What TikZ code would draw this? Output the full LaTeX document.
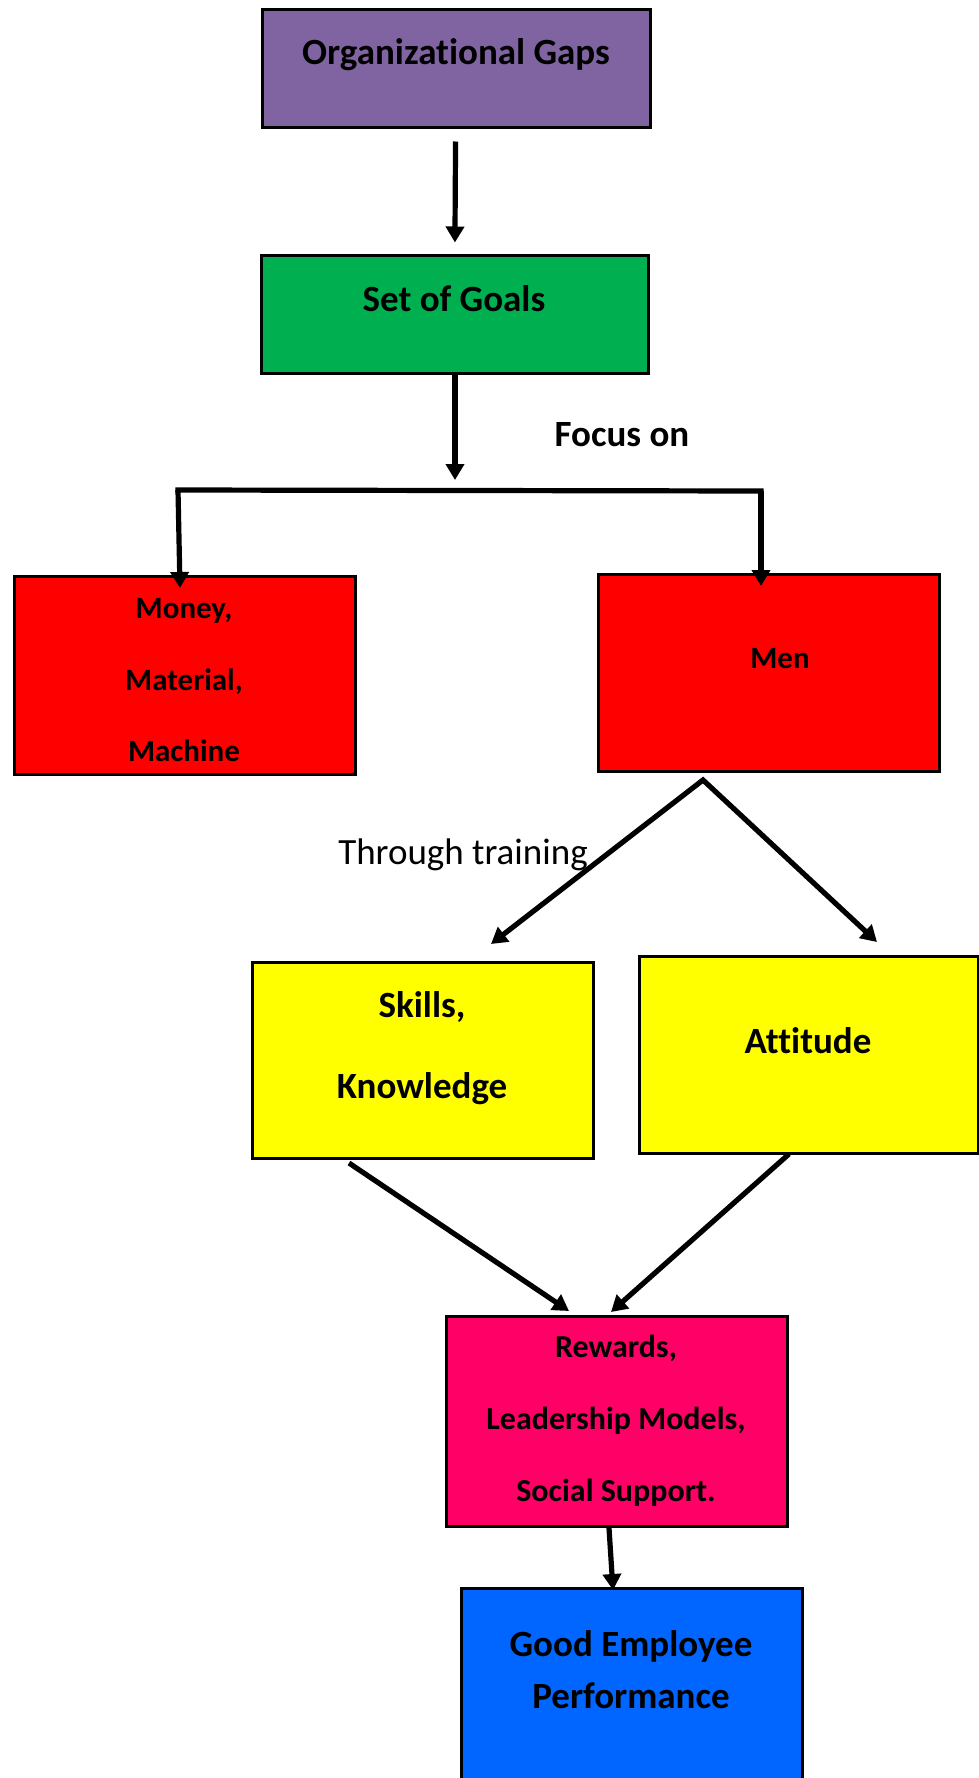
\documentclass[tikz,border=0pt]{standalone}
\usepackage{fontspec}
\setmainfont{Carlito}[Ligatures=NoCommon]
\usetikzlibrary{arrows.meta,fit}

\definecolor{gapviolet}{HTML}{8064A2}
\definecolor{goalgreen}{HTML}{00B050}
\definecolor{resred}{HTML}{FF0000}
\definecolor{trainyellow}{HTML}{FFFF00}
\definecolor{rewardpink}{HTML}{FF0066}
\definecolor{perfblue}{HTML}{0066FF}

\tikzset{
  box/.style={draw=black, line width=1.5pt, inner sep=0pt, rectangle},
  arr/.style={draw=black, line width=2.6pt, -{Triangle[length=8pt,width=9pt]}},
  bigtxt/.style={inner sep=0pt, anchor=base, font=\fontsize{18.5pt}{22pt}\selectfont\bfseries},
  midtxt/.style={inner sep=0pt, anchor=base, font=\fontsize{16pt}{19pt}\selectfont\bfseries},
  smalltxt/.style={inner sep=0pt, anchor=base, font=\fontsize{15.5pt}{18pt}\selectfont\bfseries},
  plaintxt/.style={inner sep=0pt, anchor=base, font=\fontsize{18.5pt}{22pt}\selectfont},
}

\begin{document}
\begin{tikzpicture}[x=0.5pt, y=-0.5pt]
\useasboundingbox (0,0) rectangle (979,1778);
\clip (0,0) rectangle (979,1778);

% boxes
\node[box, fill=gapviolet, fit={(262,9) (650,127)}] (gaps) {};
\node[box, fill=goalgreen, fit={(261,255) (648,373)}] (goals) {};
\node[box, fill=resred, fit={(14,576) (355,774)}] (mmm) {};
\node[box, fill=resred, fit={(598,574) (939,771)}] (men) {};
\node[box, fill=trainyellow, fit={(252,962) (593,1158)}] (skills) {};
\node[box, fill=trainyellow, fit={(639,956) (978,1153)}] (attitude) {};
\node[box, fill=rewardpink, fit={(446,1316) (787,1526)}] (rewards) {};
\node[box, fill=perfblue, fit={(461,1588) (802,1800)}] (perf) {};

% texts
\node[bigtxt] (tgaps) at (456,64) {Organizational Gaps};
\node[bigtxt] (tgoals) at (454,311) {Set of Goals};
\node[bigtxt] (tfocus) at (622,446) {Focus on};
\node[smalltxt] (tmoney) at (184,618) {Money,};
\node[smalltxt] (tmaterial) at (184,690) {Material,};
\node[smalltxt] (tmachine) at (184,761) {Machine};
\node[smalltxt] (tmen) at (780,668) {Men};
\node[plaintxt] (ttrain) at (463,864) {Through training};
\node[bigtxt] (tskills) at (422,1017) {Skills,};
\node[bigtxt] (tknow) at (422,1098) {Knowledge};
\node[bigtxt] (tatt) at (808,1053) {Attitude};
\node[midtxt] (trew) at (616,1357) {Rewards,};
\node[midtxt] (tlead) at (616,1429) {Leadership Models,};
\node[midtxt] (tsoc) at (616,1501) {Social Support.};
\node[bigtxt] (tgood) at (631,1656) {Good Employee};
\node[bigtxt] (tperf) at (631,1708) {Performance};

% connector points
\coordinate (fork) at (455,480);
\coordinate (bl) at (178,490);
\coordinate (br) at (761,491);
\coordinate (mtip) at (180,588);
\coordinate (ntip) at (761,586);
\coordinate (apex) at (703,780);
\coordinate (sktip) at (491,944);
\coordinate (attip) at (877,942);
\coordinate (skout) at (349,1163);
\coordinate (atout) at (789,1154);
\coordinate (rwl) at (569,1311);
\coordinate (rwr) at (611,1312);
\coordinate (rwout) at (609,1528);
\coordinate (pftip) at (613,1590);

% connectors
\draw[arr, shorten <=6.5pt, shorten >=5.5pt] (gaps) -- (goals);
\draw[arr] (goals.south -| fork) -- (fork);
\draw[line width=2.6pt, line cap=rect] (bl) -- (br);
\draw[arr] (bl) -- (mtip);
\draw[arr] (br) -- (ntip);
\draw[line width=2.6pt, line join=miter, {Triangle[length=8pt,width=9pt]}-{Triangle[length=8pt,width=9pt]}] (sktip) -- (apex) -- (attip);
\draw[arr] (skout) -- (rwl);
\draw[arr] (atout) -- (rwr);
\draw[arr] (rwout) -- (pftip);
\end{tikzpicture}
\end{document}
